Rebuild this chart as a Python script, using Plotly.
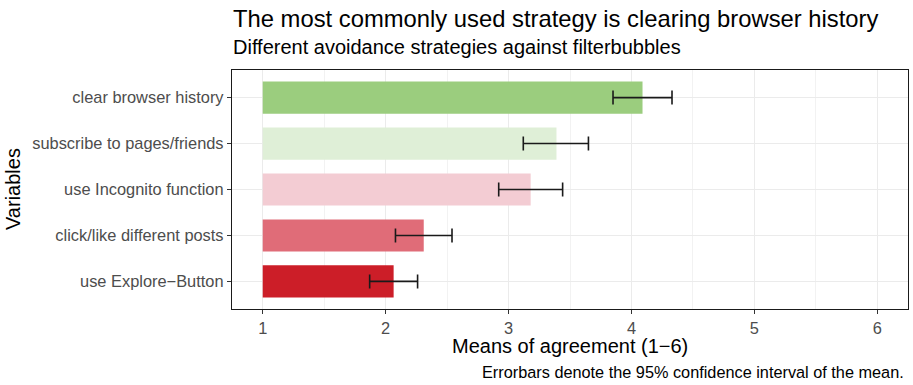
import plotly.graph_objects as go

categories = ["clear browser history", "subscribe to pages/friends", "use Incognito function",
              "click/like different posts", "use Explore\u2212Button"]
means = [4.09, 3.39, 3.18, 2.31, 2.065]
ci_low = [3.85, 3.12, 2.92, 2.08, 1.87]
ci_high = [4.33, 3.65, 3.44, 2.54, 2.26]
colors = ["#9BCD7E", "#DFEFD7", "#F3CCD3", "#E06C78", "#CC1E28"]
x_ticks = [1, 2, 3, 4, 5, 6]

base = 1
fig = go.Figure()
fig.add_trace(go.Bar(
    y=categories,
    x=[m - base for m in means],
    base=base,
    orientation="h",
    width=0.7,
    marker=dict(color=colors, line=dict(width=0)),
    error_x=dict(type="data", symmetric=False,
                 array=[h - m for h, m in zip(ci_high, means)],
                 arrayminus=[m - l for m, l in zip(means, ci_low)],
                 color="#1a1a1a", thickness=1.6, width=7),
    showlegend=False,
))

L, R, T, B = 232, 5, 70, 76
W, H = 913, 385
pw, ph = W - L - R, H - T - B
font = "Liberation Sans, Arial, sans-serif"

fig.update_layout(
    width=W, height=H,
    margin=dict(l=L, r=R, t=T, b=B),
    plot_bgcolor="white", paper_bgcolor="white",
    font=dict(family=font),
    xaxis=dict(range=[0.75, 6.25], tickvals=x_ticks, showgrid=True, gridcolor="#EBEBEB",
               gridwidth=1.3, zeroline=False, showline=True, linecolor="#1a1a1a", linewidth=1.3,
               mirror=True, ticks="outside", ticklen=4, tickcolor="#333333",
               tickfont=dict(size=16.4, color="#4D4D4D"),
               minor=dict(dtick=0.5, tick0=0.5, showgrid=True, gridcolor="#F2F2F2", gridwidth=0.7)),
    yaxis=dict(range=[4.6, -0.6], showgrid=True, gridcolor="#EBEBEB", gridwidth=1.3,
               showline=True, linecolor="#1a1a1a", linewidth=1.3, mirror=True,
               ticks="outside", ticklen=4, tickcolor="#333333",
               tickfont=dict(size=16.4, color="#4D4D4D")),
)

def ann(text, xp, yp, size, xanchor="left", color="black", angle=0):
    fig.add_annotation(text=text, xref="paper", yref="paper",
                       x=(xp - L) / pw, y=1 - (yp - T) / ph,
                       xanchor=xanchor, yanchor="middle", showarrow=False,
                       textangle=angle, font=dict(size=size, color=color, family=font))

ann("The most commonly used strategy is clearing browser history", 231, 18, 23.8)
ann("Different avoidance strategies against filterbubbles", 231, 47, 20)
ann("Means of agreement (1\u22126)", 570, 346, 20, xanchor="center")
ann("Errorbars denote the 95% confidence interval of the mean.", 906, 372, 16.3, xanchor="right")
ann("Variables", 13, 189, 20, xanchor="center", angle=-90)

fig.write_html("out.html")
